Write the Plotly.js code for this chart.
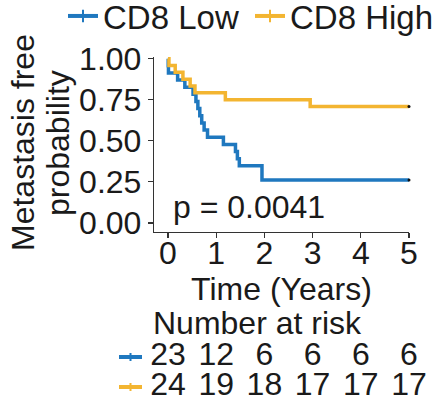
<!DOCTYPE html>
<html>
<head>
<meta charset="utf-8">
<script src="https://cdn.plot.ly/plotly-3.0.1.min.js"></script>
<style>html,body{margin:0;padding:0;background:#fff;}#chart{width:436px;height:402px;}</style>
</head>
<body>
<div id="chart"></div>
<script>
// ---- data ----
const groups = ["CD8 Low", "CD8 High"];
const lowTime = [0, 0.005, 0.01, 0.2, 0.35, 0.52, 0.58, 0.62, 0.66, 0.7, 0.75, 0.82, 1.15, 1.4, 1.44, 1.48, 1.95, 5];
const lowSurv = [1, 0.957, 0.913, 0.870, 0.826, 0.783, 0.739, 0.696, 0.652, 0.609, 0.565, 0.522, 0.478, 0.435, 0.391, 0.348, 0.261, 0.261];
const highTime = [0, 0.02, 0.15, 0.31, 0.46, 0.56, 1.19, 2.95, 5];
const highSurv = [1, 0.958, 0.917, 0.875, 0.833, 0.792, 0.750, 0.708, 0.708];
const riskTimes = [0, 1, 2, 3, 4, 5];
const riskLow = [23, 12, 6, 6, 6, 6];
const riskHigh = [24, 19, 18, 17, 17, 17];
const yTicks = [0, 0.25, 0.5, 0.75, 1];
const xTicks = [0, 1, 2, 3, 4, 5];
const pText = "p = 0.0041";
const yTitleLines = ["Metastasis free", "probability"];
const xTitle = "Time (Years)";
const riskTitle = "Number at risk";

// ---- style ----
const BLUE = "#1f78bf";
const YELLOW = "#f3b531";
const FONT = "Liberation Sans, Arial, Helvetica, sans-serif";
const FS = 32;
const TXT = "#1a1a1a";
const W = 436, H = 402;
const px = v => v / W;
const py = v => (H - v) / H;

const traces = [
  {x: lowTime, y: lowSurv, mode: "lines", line: {shape: "hv", color: BLUE, width: 3.5}, showlegend: false, hoverinfo: "skip"},
  {x: highTime, y: highSurv, mode: "lines", line: {shape: "hv", color: YELLOW, width: 3.5}, showlegend: false, hoverinfo: "skip"},
  {x: [lowTime[lowTime.length-1]], y: [lowSurv[lowSurv.length-1]], mode: "markers", marker: {color: "#111", size: 3}, showlegend: false, hoverinfo: "skip", cliponaxis: false},
  {x: [highTime[highTime.length-1]], y: [highSurv[highSurv.length-1]], mode: "markers", marker: {color: "#111", size: 3}, showlegend: false, hoverinfo: "skip", cliponaxis: false},
  // legend entries
  {x: [null], y: [null], name: groups[0], mode: "lines+markers", line: {color: BLUE, width: 4}, marker: {symbol: "line-ns-open", size: 9, color: BLUE, line: {color: BLUE, width: 2}}},
  {x: [null], y: [null], name: groups[1], mode: "lines+markers", line: {color: YELLOW, width: 4}, marker: {symbol: "line-ns-open", size: 9, color: YELLOW, line: {color: YELLOW, width: 2}}},
  // risk table
  {x: riskTimes, y: riskTimes.map(() => groups[0]), text: riskLow.map(String), mode: "text", textposition: "middle center", cliponaxis: false,
   textfont: {family: FONT, size: FS, color: TXT}, xaxis: "x2", yaxis: "y2", showlegend: false, hoverinfo: "skip"},
  {x: riskTimes, y: riskTimes.map(() => groups[1]), text: riskHigh.map(String), mode: "text", textposition: "middle center", cliponaxis: false,
   textfont: {family: FONT, size: FS, color: TXT}, xaxis: "x2", yaxis: "y2", showlegend: false, hoverinfo: "skip"}
];

const axisLine = {showline: true, linecolor: "#333", linewidth: 1.2, ticks: "outside", ticklen: 5, tickcolor: "#333", tickwidth: 1.2,
  showgrid: false, zeroline: false, automargin: false, tickfont: {family: FONT, size: FS, color: TXT}};

const shapes = [];
[[BLUE, 357], [YELLOW, 387]].forEach(([c, y]) => {
  shapes.push({type: "line", xref: "paper", yref: "paper", x0: px(119), x1: px(142), y0: py(y), y1: py(y), line: {color: c, width: 4}});
  shapes.push({type: "line", xref: "paper", yref: "paper", x0: px(130.5), x1: px(130.5), y0: py(y-4), y1: py(y+4), line: {color: c, width: 2}});
});

const layout = {
  width: W, height: H,
  margin: {l: 0, r: 0, t: 0, b: 0, autoexpand: false},
  paper_bgcolor: "#fff", plot_bgcolor: "#fff",
  font: {family: FONT, size: FS, color: TXT},
  showlegend: true,
  legend: {orientation: "h", x: px(63), y: 1 + 12/H, xanchor: "left", yanchor: "top", entrywidth: 142, entrywidthmode: "pixels",
    font: {family: FONT, size: 33, color: TXT}, bgcolor: "rgba(0,0,0,0)", itemwidth: 30, tracegroupgap: 0},
  xaxis: Object.assign({}, axisLine, {domain: [px(154), px(409)], range: [-0.29, 5], tickvals: xTicks, ticktext: xTicks.map(String),
    ticklabelstandoff: -13,
    anchor: "y", title: {text: xTitle, font: {family: FONT, size: FS, color: TXT}, standoff: 0}}),
  yaxis: Object.assign({}, axisLine, {domain: [py(232), py(57)], range: [-0.055, 1.01], tickvals: yTicks, ticktext: yTicks.map(v => v.toFixed(2)),
    anchor: "x"}),
  xaxis2: {domain: [px(154), px(409)], range: [-0.29, 5], anchor: "y2", visible: false, fixedrange: true},
  yaxis2: {domain: [0, py(342)], range: [-0.5, 1.5], type: "category", categoryarray: [groups[1], groups[0]], anchor: "x2", visible: false, fixedrange: true},
  shapes: shapes,
  annotations: [
    {text: yTitleLines[0], xref: "paper", yref: "paper", x: px(23), y: py(143), xanchor: "center", yanchor: "middle", textangle: -90, showarrow: false,
     font: {family: FONT, size: FS, color: TXT}},
    {text: yTitleLines[1], xref: "paper", yref: "paper", x: px(58), y: py(143), xanchor: "center", yanchor: "middle", textangle: -90, showarrow: false,
     font: {family: FONT, size: FS, color: TXT}},
    {text: pText, xref: "x", yref: "y", x: 0.06, y: 0.1, xanchor: "left", yanchor: "middle", showarrow: false, font: {family: FONT, size: FS, color: TXT}},
    {text: riskTitle, xref: "paper", yref: "paper", x: px(257), y: py(323), xanchor: "center", yanchor: "middle", showarrow: false, font: {family: FONT, size: FS, color: TXT}}
  ]
};

Plotly.newPlot("chart", traces, layout, {displayModeBar: false, staticPlot: true});
</script>
</body>
</html>
